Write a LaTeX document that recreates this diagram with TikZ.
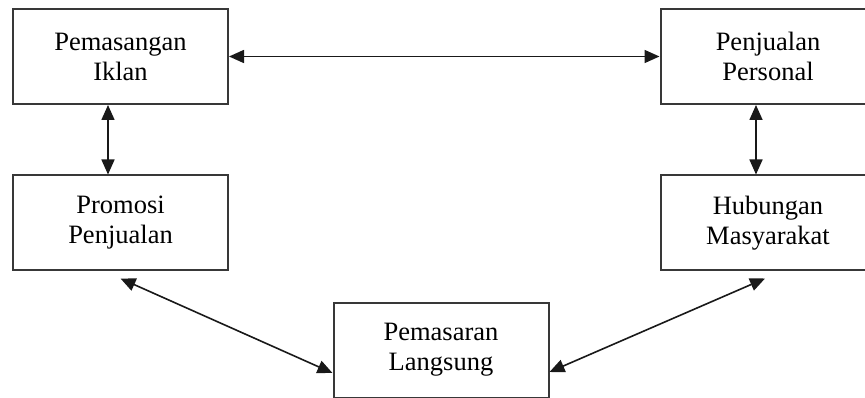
\documentclass[tikz,border=0pt]{standalone}
\usepackage{fontspec}
\setmainfont{Liberation Serif}
\usetikzlibrary{arrows.meta}
\begin{document}
\begin{tikzpicture}[x=1pt,y=-1pt,
  box/.style={draw=black!78, line width=2pt, fill=white, minimum width=215pt, minimum height=95pt,
    align=center, inner sep=0pt, text=black, font=\fontsize{26.5}{30}\selectfont},
  link/.style={line width=1.6pt, draw=black!90,
    {Triangle[length=15pt,width=13pt]}-{Triangle[length=15pt,width=13pt]}}]
\useasboundingbox (0,0) rectangle (865,398);
\clip (0,0) rectangle (865,398);
\node[box] (a) at (120.5,56.5) {Pemasangan\\Iklan};
\node[box] (b) at (768,56.5) {Penjualan\\Personal};
\node[box] (c) at (120.5,223) {Promosi\\Penjualan};
\node[box] (d) at (768,223) {Hubungan\\Masyarakat};
\node[box] (e) at (441,350) {Pemasaran\\Langsung};
\draw[link] (a.east) -- (b.west);
\draw[link] ([xshift=-12.5pt]a.south) -- ([xshift=-12.5pt]c.north);
\draw[link] ([xshift=-12pt]b.south) -- ([xshift=-12pt]d.north);
\draw[link] ([yshift=-7pt]c.south) -- ([yshift=-23pt]e.west);
\draw[link] ([xshift=-3pt,yshift=-7pt]d.south) -- ([yshift=-22pt]e.east);
\end{tikzpicture}
\end{document}
